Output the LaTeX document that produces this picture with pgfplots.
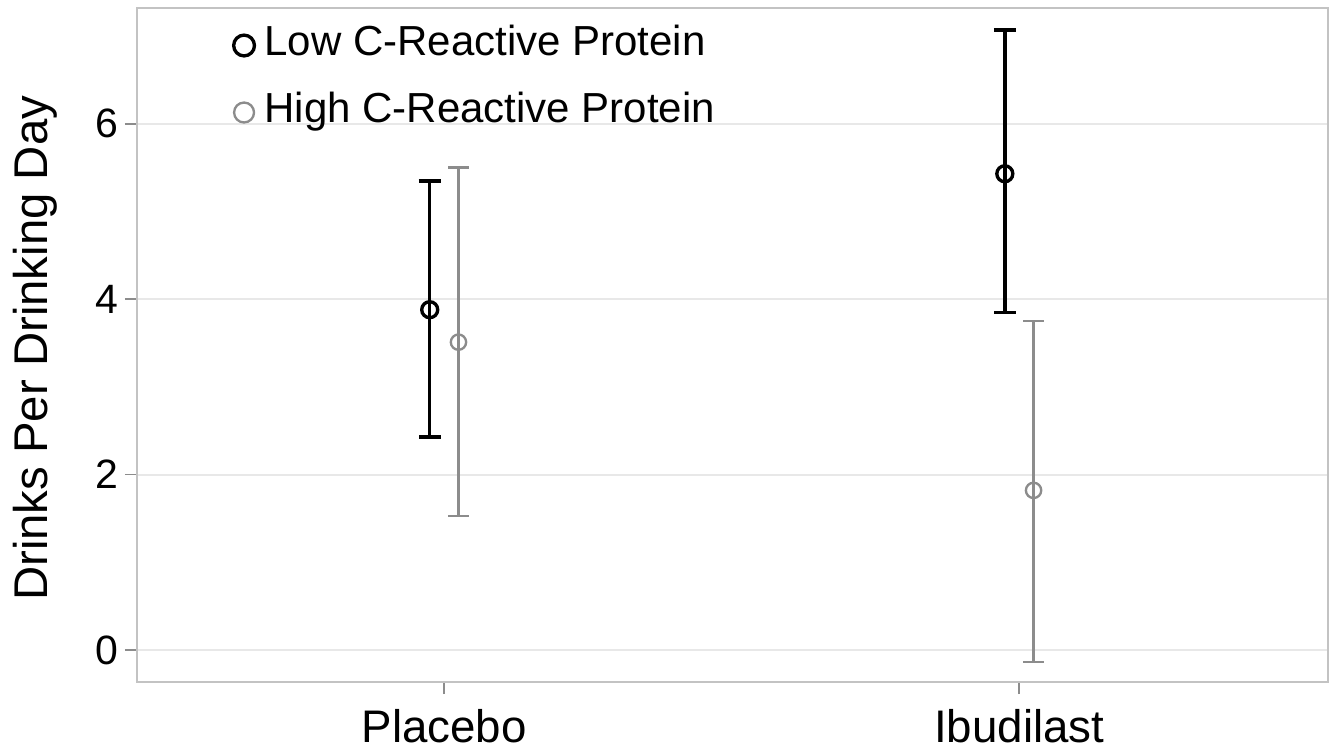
\documentclass[border=0pt]{standalone}
\usepackage{fontspec}
\setmainfont{Liberation Sans}
\usepackage{pgfplots}
\pgfplotsset{compat=1.18}
\definecolor{hicrp}{RGB}{140,140,140}
\definecolor{frame}{RGB}{195,195,195}
\definecolor{gridc}{RGB}{232,232,232}

\pgfplotstableread{
x     y    ep   em
0.975 3.88 1.47 1.45
1.975 5.43 1.64 1.58
}\lowcrp
\pgfplotstableread{
x     y    ep   em
1.025 3.51 1.99 1.98
2.025 1.82 1.93 1.96
}\highcrp

\begin{document}
\begin{tikzpicture}
\begin{axis}[
  scale only axis, width=357.3pt, height=202.2pt,
  xmin=0.466, xmax=2.537, ymin=-0.365, ymax=7.32,
  xtick={1,2}, xticklabels={Placebo, Ibudilast},
  ytick={0,2,4,6},
  ymajorgrids, grid style={gridc, line width=0.6pt},
  axis line style={frame, line width=0.7pt},
  tick align=outside, tick pos=left, major tick length=3.6pt,
  every tick/.style={hicrp, line width=0.5pt},
  /pgf/number format/assume math mode=true,
  xticklabel style={font=\fontsize{13.7}{16}\selectfont, yshift=-1pt},
  yticklabel style={font=\fontsize{12.3}{14}\selectfont, xshift=1.5pt},
  ylabel={Drinks Per Drinking Day},
  ylabel style={font=\fontsize{14.2}{16}\selectfont, at={(axis description cs:-0.0856,0.495)}, anchor=center},
  legend style={draw=none, fill=none, inner sep=0pt, at={(axis description cs:0.0806,0.975)}, anchor=north west,
    font=\fontsize{12.6}{14}\selectfont, row sep=8.1pt, column sep=3pt,
    nodes={inner sep=0pt, text height=9pt, text depth=3pt}},
  legend cell align=left,
  legend image code/.code={\draw[#1, mark options={scale=1.3}] plot coordinates {(0pt,0pt)};},
]
\addplot[black, line width=1pt, only marks, mark=o, mark size=2.4pt,
  error bars/.cd, y dir=both, y explicit,
  error bar style={black, line width=1.05pt},
  error mark options={rotate=90, black, line width=1.1pt, mark size=3.3pt}]
  table[x=x, y=y, y error plus=ep, y error minus=em] {\lowcrp};
\addlegendentry{Low C-Reactive Protein}
\addplot[hicrp, line width=0.7pt, only marks, mark=o, mark size=2.3pt,
  error bars/.cd, y dir=both, y explicit,
  error bar style={hicrp, line width=0.7pt},
  error mark options={rotate=90, hicrp, line width=0.7pt, mark size=3.1pt}]
  table[x=x, y=y, y error plus=ep, y error minus=em] {\highcrp};
\addlegendentry{High C-Reactive Protein}
\end{axis}
\pgfresetboundingbox
\useasboundingbox ([shift={(-41.1pt,-20.1pt)}]current axis.south west) rectangle ([shift={(2.4pt,2.4pt)}]current axis.north east);
\end{tikzpicture}
\end{document}
